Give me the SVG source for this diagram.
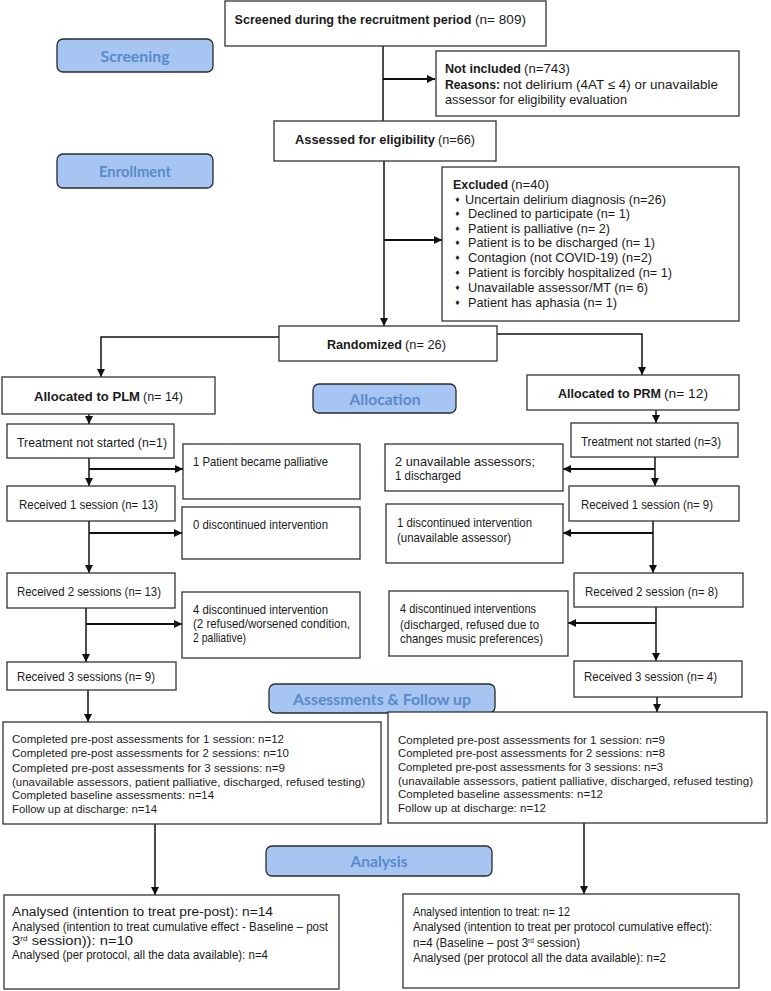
<svg xmlns="http://www.w3.org/2000/svg" width="771" height="991" viewBox="0 0 771 991">
<defs>
<marker id="ah" markerUnits="userSpaceOnUse" markerWidth="9" markerHeight="8" refX="8" refY="4" orient="auto">
<path d="M0,0 L8,4 L0,8 z" fill="#111"/>
</marker>
<style>
.box{fill:#fff;stroke:#333;stroke-width:1.3}
.lbl{fill:#A7C5F3;stroke:#2a2a2a;stroke-width:1.3}
.lt{font-family:Lato,"Open Sans","Liberation Sans",sans-serif;font-weight:700;font-size:16px;fill:#5A8AC7;text-anchor:middle}
.n{font-family:"Liberation Sans Narrow","Liberation Sans",Arial,sans-serif;font-size:13px;fill:#1a1a1a}
.a{font-family:"Liberation Sans Narrow","Liberation Sans",Arial,sans-serif;font-size:12.5px;fill:#1a1a1a}
.r{font-family:"Liberation Sans",Arial,sans-serif;font-size:13px;fill:#1a1a1a}
.s{font-family:"Liberation Sans",Arial,sans-serif;font-size:11.5px;fill:#1a1a1a}
.d{font-family:"DejaVu Sans",sans-serif;font-size:6.5px;fill:#1a1a1a}
.b{font-weight:bold}
.ln{stroke:#111;stroke-width:1.5;fill:none}
.la{stroke:#111;stroke-width:2;fill:none}
.sup{font-size:7px}
</style>
</defs>
<rect width="771" height="991" fill="#fff"/>

<g id="labels">
<g id="lbl-screening"><rect class="lbl" x="57" y="39" width="156" height="33" rx="6"/><text class="lt" x="135" y="62" textLength="69" lengthAdjust="spacingAndGlyphs">Screening</text></g>
<g id="lbl-enrollment"><rect class="lbl" x="57" y="154" width="156" height="34" rx="6"/><text class="lt" x="135" y="177" textLength="72" lengthAdjust="spacingAndGlyphs">Enrollment</text></g>
<g id="lbl-allocation"><rect class="lbl" x="313" y="384" width="143" height="29" rx="6"/><text class="lt" x="385" y="405" textLength="71" lengthAdjust="spacingAndGlyphs">Allocation</text></g>
<g id="lbl-assess"><rect class="lbl" x="269" y="684" width="226" height="29" rx="6"/><text class="lt" x="382" y="705" textLength="178" lengthAdjust="spacingAndGlyphs">Assessments &amp; Follow up</text></g>
<g id="lbl-analysis"><rect class="lbl" x="266" y="846" width="226" height="30" rx="6"/><text class="lt" x="379" y="867" textLength="57" lengthAdjust="spacingAndGlyphs">Analysis</text></g>
</g>

<g id="connectors">
<path class="ln" d="M383,46 V121"/>
<path class="la" d="M383,79 H435" marker-end="url(#ah)"/>
<path class="ln" d="M384,161 V326" marker-end="url(#ah)"/>
<path class="la" d="M384,240 H442" marker-end="url(#ah)"/>
<path class="ln" d="M279,337 H101 V377" marker-end="url(#ah)"/>
<path class="ln" d="M497,334 H642 V375" marker-end="url(#ah)"/>
<path class="ln" d="M89,414 V424" marker-end="url(#ah)"/>
<path class="ln" d="M89,458 V486" marker-end="url(#ah)"/>
<path class="la" d="M89,469 H183" marker-end="url(#ah)"/>
<path class="ln" d="M656,410 V423" marker-end="url(#ah)"/>
<path class="ln" d="M655,457 V486" marker-end="url(#ah)"/>
<path class="la" d="M655,469 H563" marker-end="url(#ah)"/>
<path class="ln" d="M89,521 V573" marker-end="url(#ah)"/>
<path class="la" d="M89,533 H182" marker-end="url(#ah)"/>
<path class="ln" d="M653,521 V573" marker-end="url(#ah)"/>
<path class="la" d="M653,533 H563" marker-end="url(#ah)"/>
<path class="ln" d="M86,608 V662" marker-end="url(#ah)"/>
<path class="la" d="M86,624 H182" marker-end="url(#ah)"/>
<path class="ln" d="M656,607 V661" marker-end="url(#ah)"/>
<path class="la" d="M656,623 H568" marker-end="url(#ah)"/>
<path class="ln" d="M88,690 V722" marker-end="url(#ah)"/>
<path class="ln" d="M657,697 V712" marker-end="url(#ah)"/>
<path class="ln" d="M155,824 V895" marker-end="url(#ah)"/>
<path class="ln" d="M584,823 V894" marker-end="url(#ah)"/>
</g>

<g id="screened"><rect class="box" x="225" y="1" width="321" height="45"/>
<text class="n b" x="234.5" y="24" textLength="237" lengthAdjust="spacingAndGlyphs">Screened during the recruitment period</text>
<text class="n" x="475" y="24" textLength="51" lengthAdjust="spacingAndGlyphs">(n= 809)</text></g>

<g id="not-included"><rect class="box" x="436" y="51" width="303" height="65"/>
<text class="n b" x="445" y="73" textLength="76" lengthAdjust="spacingAndGlyphs">Not included</text>
<text class="n" x="524" y="73" textLength="46" lengthAdjust="spacingAndGlyphs">(n=743)</text>
<text class="n b" x="445" y="89" textLength="55" lengthAdjust="spacingAndGlyphs">Reasons:</text>
<text class="n" x="503" y="89" textLength="215" lengthAdjust="spacingAndGlyphs">not delirium (4AT ≤ 4) or unavailable</text>
<text class="n" x="445" y="104" textLength="182" lengthAdjust="spacingAndGlyphs">assessor for eligibility evaluation</text></g>

<g id="assessed"><rect class="box" x="274" y="121" width="222" height="40"/>
<text class="n b" x="295" y="144" textLength="140" lengthAdjust="spacingAndGlyphs">Assessed for eligibility</text>
<text class="n" x="438" y="144" textLength="37" lengthAdjust="spacingAndGlyphs">(n=66)</text></g>

<g id="excluded"><rect class="box" x="442" y="167" width="297" height="154"/>
<text class="r b" x="453" y="189" textLength="55" lengthAdjust="spacingAndGlyphs">Excluded</text>
<text class="r" x="511" y="189" textLength="38" lengthAdjust="spacingAndGlyphs">(n=40)</text>
<text class="d" x="454.5" y="202">♦</text><text class="d" x="454.5" y="216">♦</text><text class="d" x="454.5" y="231">♦</text><text class="d" x="454.5" y="245">♦</text><text class="d" x="454.5" y="260">♦</text><text class="d" x="454.5" y="275">♦</text><text class="d" x="454.5" y="290">♦</text><text class="d" x="454.5" y="305">♦</text>
<text class="r" x="465" y="204" textLength="201" lengthAdjust="spacingAndGlyphs">Uncertain delirium diagnosis (n=26)</text>
<text class="r" x="468" y="218" textLength="162" lengthAdjust="spacingAndGlyphs">Declined to participate (n= 1)</text>
<text class="r" x="468" y="233" textLength="142" lengthAdjust="spacingAndGlyphs">Patient is palliative (n= 2)</text>
<text class="r" x="468" y="247" textLength="187" lengthAdjust="spacingAndGlyphs">Patient is to be discharged (n= 1)</text>
<text class="r" x="468" y="262" textLength="184" lengthAdjust="spacingAndGlyphs">Contagion (not COVID-19) (n=2)</text>
<text class="r" x="468" y="277" textLength="204" lengthAdjust="spacingAndGlyphs">Patient is forcibly hospitalized (n= 1)</text>
<text class="r" x="468" y="292" textLength="180" lengthAdjust="spacingAndGlyphs">Unavailable assessor/MT (n= 6)</text>
<text class="r" x="468" y="307" textLength="149" lengthAdjust="spacingAndGlyphs">Patient has aphasia (n= 1)</text></g>

<g id="randomized"><rect class="box" x="279" y="326" width="218" height="35"/>
<text class="n b" x="327" y="349" textLength="75" lengthAdjust="spacingAndGlyphs">Randomized</text>
<text class="n" x="405" y="349" textLength="41" lengthAdjust="spacingAndGlyphs">(n= 26)</text></g>

<g id="alloc-plm"><rect class="box" x="2" y="377" width="213" height="37"/>
<text class="n b" x="34" y="401" textLength="106" lengthAdjust="spacingAndGlyphs">Allocated to PLM</text>
<text class="n" x="143" y="401" textLength="40" lengthAdjust="spacingAndGlyphs">(n= 14)</text></g>
<g id="alloc-prm"><rect class="box" x="527" y="375" width="212" height="35"/>
<text class="n b" x="558" y="398" textLength="103" lengthAdjust="spacingAndGlyphs">Allocated to PRM</text>
<text class="n" x="664" y="398" textLength="44" lengthAdjust="spacingAndGlyphs">(n= 12)</text></g>

<g id="treat-plm"><rect class="box" x="7" y="424" width="167" height="34"/>
<text class="n" x="17" y="447" textLength="150" lengthAdjust="spacingAndGlyphs">Treatment not started (n=1)</text></g>
<g id="treat-prm"><rect class="box" x="571" y="423" width="167" height="34"/>
<text class="n" x="581" y="446" textLength="140" lengthAdjust="spacingAndGlyphs">Treatment not started (n=3)</text></g>

<g id="pall"><rect class="box" x="183" y="444" width="177" height="55"/>
<text class="n" x="193" y="466" textLength="135" lengthAdjust="spacingAndGlyphs">1 Patient became palliative</text></g>
<g id="unav"><rect class="box" x="385" y="444" width="178" height="47"/>
<text class="n" x="395" y="466" textLength="140" lengthAdjust="spacingAndGlyphs">2 unavailable assessors;</text>
<text class="n" x="395" y="480" textLength="66" lengthAdjust="spacingAndGlyphs">1 discharged</text></g>

<g id="rec1-plm"><rect class="box" x="7" y="486" width="168" height="35"/>
<text class="n" x="19" y="509" textLength="139" lengthAdjust="spacingAndGlyphs">Received 1 session (n= 13)</text></g>
<g id="rec1-prm"><rect class="box" x="569" y="486" width="170" height="35"/>
<text class="n" x="581" y="509" textLength="132" lengthAdjust="spacingAndGlyphs">Received 1 session (n= 9)</text></g>

<g id="disc0"><rect class="box" x="182" y="507" width="178" height="52"/>
<text class="n" x="193" y="529" textLength="135" lengthAdjust="spacingAndGlyphs">0 discontinued intervention</text></g>
<g id="disc1"><rect class="box" x="386" y="504" width="177" height="59"/>
<text class="n" x="397" y="527" textLength="135" lengthAdjust="spacingAndGlyphs">1 discontinued intervention</text>
<text class="n" x="397" y="542" textLength="114" lengthAdjust="spacingAndGlyphs">(unavailable assessor)</text></g>

<g id="rec2-plm"><rect class="box" x="7" y="573" width="168" height="35"/>
<text class="n" x="17" y="596" textLength="144" lengthAdjust="spacingAndGlyphs">Received 2 sessions (n= 13)</text></g>
<g id="rec2-prm"><rect class="box" x="574" y="573" width="169" height="34"/>
<text class="n" x="585" y="596" textLength="133" lengthAdjust="spacingAndGlyphs">Received 2 session (n= 8)</text></g>

<g id="disc4-plm"><rect class="box" x="182" y="592" width="178" height="66"/>
<text class="n" x="193" y="614" textLength="135" lengthAdjust="spacingAndGlyphs">4 discontinued intervention</text>
<text class="n" x="193" y="628" textLength="157" lengthAdjust="spacingAndGlyphs">(2 refused/worsened condition,</text>
<text class="n" x="193" y="642" textLength="53" lengthAdjust="spacingAndGlyphs">2 palliative)</text></g>
<g id="disc4-prm"><rect class="box" x="389" y="591" width="179" height="65"/>
<text class="n" x="400" y="613" textLength="136" lengthAdjust="spacingAndGlyphs">4 discontinued interventions</text>
<text class="n" x="400" y="629" textLength="139" lengthAdjust="spacingAndGlyphs">(discharged, refused due to</text>
<text class="n" x="400" y="643" textLength="143" lengthAdjust="spacingAndGlyphs">changes music preferences)</text></g>

<g id="rec3-plm"><rect class="box" x="7" y="662" width="169" height="28"/>
<text class="n" x="17" y="681" textLength="138" lengthAdjust="spacingAndGlyphs">Received 3 sessions (n= 9)</text></g>
<g id="rec3-prm"><rect class="box" x="574" y="661" width="168" height="36"/>
<text class="n" x="584" y="681" textLength="133" lengthAdjust="spacingAndGlyphs">Received 3 session (n= 4)</text></g>

<g id="assess-plm"><rect class="box" x="3" y="722" width="378" height="102"/>
<text class="s" x="12" y="743" textLength="272" lengthAdjust="spacingAndGlyphs">Completed pre-post assessments for 1 session: n=12</text>
<text class="s" x="12" y="757" textLength="277" lengthAdjust="spacingAndGlyphs">Completed pre-post assessments for 2 sessions: n=10</text>
<text class="s" x="12" y="772" textLength="273" lengthAdjust="spacingAndGlyphs">Completed pre-post assessments for 3 sessions: n=9</text>
<text class="s" x="12" y="786" textLength="353" lengthAdjust="spacingAndGlyphs">(unavailable assessors, patient palliative, discharged, refused testing)</text>
<text class="s" x="12" y="799" textLength="202" lengthAdjust="spacingAndGlyphs">Completed baseline assessments: n=14</text>
<text class="s" x="12" y="813" textLength="145" lengthAdjust="spacingAndGlyphs">Follow up at discharge: n=14</text></g>

<g id="assess-prm"><rect class="box" x="388" y="712" width="379" height="111"/>
<text class="s" x="398" y="744" textLength="267" lengthAdjust="spacingAndGlyphs">Completed pre-post assessments for 1 session: n=9</text>
<text class="s" x="398" y="757" textLength="267" lengthAdjust="spacingAndGlyphs">Completed pre-post assessments for 2 sessions: n=8</text>
<text class="s" x="398" y="771" textLength="265" lengthAdjust="spacingAndGlyphs">Completed pre-post assessments for 3 sessions: n=3</text>
<text class="s" x="398" y="785" textLength="355" lengthAdjust="spacingAndGlyphs">(unavailable assessors, patient palliative, discharged, refused testing)</text>
<text class="s" x="398" y="798" textLength="205" lengthAdjust="spacingAndGlyphs">Completed baseline assessments: n=12</text>
<text class="s" x="398" y="812" textLength="148" lengthAdjust="spacingAndGlyphs">Follow up at discharge: n=12</text></g>

<g id="analysis-plm"><rect class="box" x="4" y="895" width="335" height="94"/>
<text class="a" x="12" y="916" textLength="261" lengthAdjust="spacingAndGlyphs">Analysed (intention to treat pre-post): n=14</text>
<text class="a" x="12" y="931" textLength="316" lengthAdjust="spacingAndGlyphs">Analysed (intention to treat cumulative effect - Baseline – post</text>
<text class="a" x="12" y="945" textLength="121" lengthAdjust="spacingAndGlyphs">3<tspan class="sup" dy="-4">rd</tspan><tspan dy="4"> session)): n=10</tspan></text>
<text class="a" x="12" y="959" textLength="256" lengthAdjust="spacingAndGlyphs">Analysed (per protocol, all the data available): n=4</text></g>

<g id="analysis-prm"><rect class="box" x="403" y="894" width="336" height="94"/>
<text class="a" x="413" y="916" textLength="157" lengthAdjust="spacingAndGlyphs">Analysed intention to treat: n= 12</text>
<text class="a" x="413" y="931" textLength="299" lengthAdjust="spacingAndGlyphs">Analysed (intention to treat per protocol cumulative effect):</text>
<text class="a" x="413" y="947" textLength="167" lengthAdjust="spacingAndGlyphs">n=4 (Baseline – post 3<tspan class="sup" dy="-4">rd</tspan><tspan dy="4"> session)</tspan></text>
<text class="a" x="413" y="962" textLength="253" lengthAdjust="spacingAndGlyphs">Analysed (per protocol all the data available): n=2</text></g>
</svg>
